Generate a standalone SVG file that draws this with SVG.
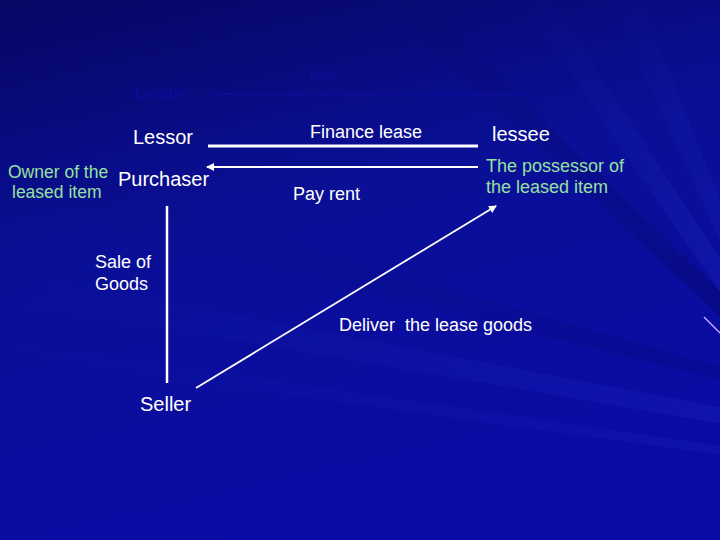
<svg xmlns="http://www.w3.org/2000/svg" width="720" height="540" viewBox="0 0 720 540">
<defs>
<linearGradient id="bg" x1="0" y1="0" x2="0.3" y2="1">
<stop offset="0" stop-color="#060664"/>
<stop offset="0.45" stop-color="#0a0f96"/>
<stop offset="1" stop-color="#0a0ba4"/>
</linearGradient>
<linearGradient id="streak" x1="0" y1="0" x2="1" y2="0">
<stop offset="0" stop-color="#3040e0" stop-opacity="0"/>
<stop offset="1" stop-color="#4050f0" stop-opacity="0.25"/>
</linearGradient>
<linearGradient id="dark" x1="0" y1="0" x2="1" y2="0">
<stop offset="0" stop-color="#000040" stop-opacity="0"/>
<stop offset="1" stop-color="#000040" stop-opacity="0.25"/>
</linearGradient>
<marker id="ah" markerWidth="8" markerHeight="8" refX="7" refY="4" orient="auto" markerUnits="userSpaceOnUse">
<path d="M0,0 L8,4 L0,8 Z" fill="#ffffff"/>
</marker>
<style>
text{font-family:"Liberation Sans",Arial,sans-serif;fill:#ffffff}
.g{fill:#96e0a0}
.faint{fill:#0c0c9c}
.ln{stroke:#ffffff;fill:none}
</style>
</defs>
<rect width="720" height="540" fill="url(#bg)"/>
<g id="background-streaks">
<polygon points="380,0 420,0 760,330 745,340" fill="url(#dark)"/>
<polygon points="520,0 550,0 760,320 748,332" fill="url(#streak)" opacity="0.6"/>
<polygon points="0,270 0,300 760,430 760,415" fill="url(#streak)" opacity="0.5"/>
<polygon points="0,340 0,355 760,460 760,452" fill="url(#streak)" opacity="0.4"/>
<polygon points="610,0 640,0 760,300 752,310" fill="url(#streak)" opacity="0.5"/>
<polygon points="0,160 0,200 760,390 760,378" fill="url(#dark)" opacity="0.5"/>
<line x1="704" y1="317" x2="720" y2="333" stroke="#c8a8ff" stroke-width="1.5"/>
</g>
<g id="faint-title">
<text class="faint" x="310" y="80" font-size="14">loan</text>
<text class="faint" x="135" y="99" font-size="17">Lender</text>
<line x1="212" y1="94" x2="525" y2="94" stroke="#0c0ca4" stroke-width="2" stroke-dasharray="2,1"/>
</g>
<g id="connectors">
<line class="ln" x1="208" y1="146" x2="478" y2="146" stroke-width="3"/>
<line class="ln" x1="478" y1="167" x2="207" y2="167" stroke-width="2" marker-end="url(#ah)"/>
<line class="ln" x1="167" y1="206" x2="167" y2="383" stroke-width="2.5"/>
<line class="ln" x1="196" y1="388" x2="496" y2="206" stroke-width="1.8" marker-end="url(#ah)"/>
</g>
<g id="lessor"><text x="133" y="144" font-size="20">Lessor</text></g>
<g id="purchaser">
<text x="118" y="186" font-size="20">Purchaser</text>
<text class="g" x="8" y="178" font-size="17.5">Owner of the</text>
<text class="g" x="12" y="198" font-size="17.5">leased item</text>
</g>
<g id="lessee">
<text x="492" y="141" font-size="20">lessee</text>
<text class="g" x="486" y="172" font-size="18">The possessor of</text>
<text class="g" x="486" y="193" font-size="18">the leased item</text>
</g>
<g id="seller"><text x="140" y="411" font-size="20">Seller</text></g>
<g id="labels">
<text x="310" y="138" font-size="18">Finance lease</text>
<text x="293" y="200" font-size="18">Pay rent</text>
<text x="95" y="268" font-size="18">Sale of</text>
<text x="95" y="290" font-size="18">Goods</text>
<text x="339" y="331" font-size="18" xml:space="preserve">Deliver  the lease goods</text>
</g>
</svg>
